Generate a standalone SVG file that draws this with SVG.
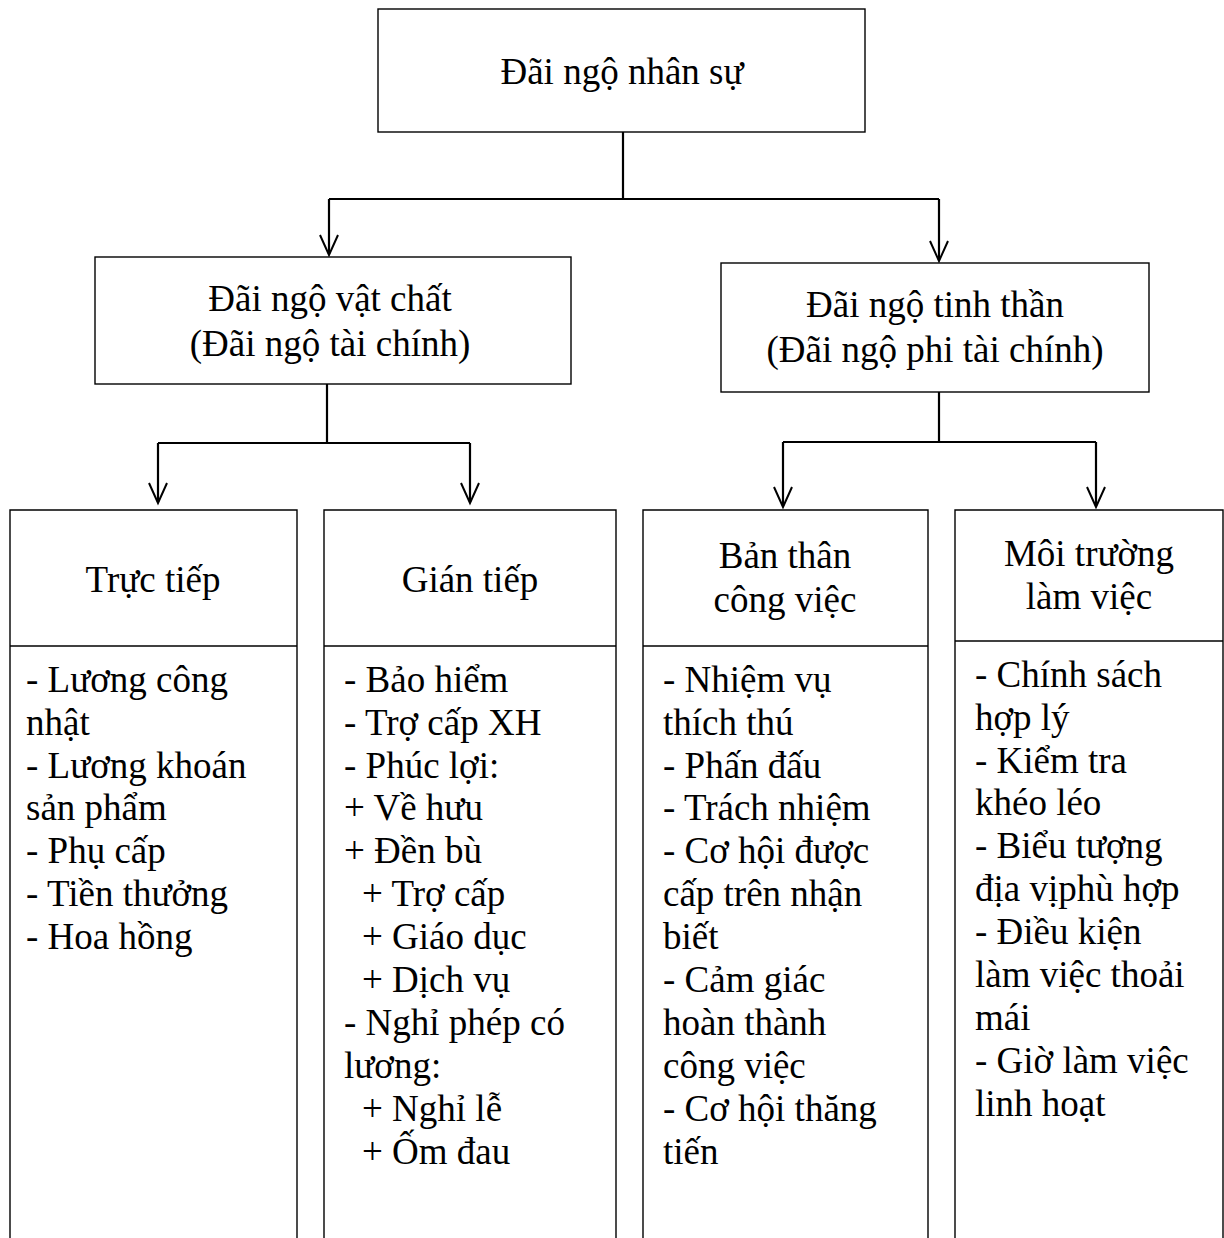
<svg xmlns="http://www.w3.org/2000/svg" width="1224" height="1238" viewBox="0 0 1224 1238">
  <style>
    .box { fill: #ffffff; stroke: #000000; stroke-width: 1.4; }
    .link { fill: none; stroke: #000000; stroke-width: 2.2; }
    .head { fill: none; stroke: #000000; stroke-width: 2; }
    text { font-family: "Liberation Serif", "Times New Roman", serif; font-size: 37px; fill: #000000; }
    .c { text-anchor: middle; }
  </style>
  <defs>
    <!-- open V arrowhead, tip at origin -->
    <path id="v" class="head" d="M-9,-20 L0,0 L9,-20"/>
  </defs>

  <rect width="1224" height="1238" fill="#ffffff"/>

  <g id="connectors">
    <!-- root to level 2 -->
    <path class="link" d="M623,132 V199 M329,199 H939 M329,199 V254 M939,199 V260"/>
    <use href="#v" x="329" y="255"/>
    <use href="#v" x="939" y="261"/>
    <!-- material to direct / indirect -->
    <path class="link" d="M327,384 V443 M158,443 H470 M158,443 V502 M470,443 V502"/>
    <use href="#v" x="158" y="503"/>
    <use href="#v" x="470" y="503"/>
    <!-- spiritual to job / environment -->
    <path class="link" d="M939,392 V442 M783,442 H1096 M783,442 V506 M1096,442 V506"/>
    <use href="#v" x="783" y="507"/>
    <use href="#v" x="1096" y="507"/>
  </g>

  <g id="root">
    <rect class="box" x="378" y="9" width="487" height="123"/>
    <text class="c" x="622" y="84">Đãi ngộ nhân sự</text>
  </g>

  <g id="material">
    <rect class="box" x="95" y="257" width="476" height="127"/>
    <text class="c" x="330" y="311">Đãi ngộ vật chất</text>
    <text class="c" x="330" y="356">(Đãi ngộ tài chính)</text>
  </g>

  <g id="spiritual">
    <rect class="box" x="721" y="263" width="428" height="129"/>
    <text class="c" x="935" y="317">Đãi ngộ tinh thần</text>
    <text class="c" x="935" y="362">(Đãi ngộ phi tài chính)</text>
  </g>

  <g id="direct">
    <path class="box" d="M10,1245 V510 H297 V1245"/>
    <path class="box" d="M10,646 H297"/>
    <text class="c" x="153" y="592">Trực tiếp</text>
    <text x="26" y="692">- Lương công</text>
    <text x="26" y="735">nhật</text>
    <text x="26" y="778">- Lương khoán</text>
    <text x="26" y="820">sản phẩm</text>
    <text x="26" y="863">- Phụ cấp</text>
    <text x="26" y="906">- Tiền thưởng</text>
    <text x="26" y="949">- Hoa hồng</text>
  </g>

  <g id="indirect">
    <path class="box" d="M324,1245 V510 H616 V1245"/>
    <path class="box" d="M324,646 H616"/>
    <text class="c" x="470" y="592">Gián tiếp</text>
    <text x="344" y="692">- Bảo hiểm</text>
    <text x="344" y="735">- Trợ cấp XH</text>
    <text x="344" y="778">- Phúc lợi:</text>
    <text x="344" y="820">+ Về hưu</text>
    <text x="344" y="863">+ Đền bù</text>
    <text x="362" y="906">+ Trợ cấp</text>
    <text x="362" y="949">+ Giáo dục</text>
    <text x="362" y="992">+ Dịch vụ</text>
    <text x="344" y="1035">- Nghỉ phép có</text>
    <text x="344" y="1078">lương:</text>
    <text x="362" y="1121">+ Nghỉ lễ</text>
    <text x="362" y="1164">+ Ốm đau</text>
  </g>

  <g id="job">
    <path class="box" d="M643,1245 V510 H928 V1245"/>
    <path class="box" d="M643,646 H928"/>
    <text class="c" x="785" y="568">Bản thân</text>
    <text class="c" x="785" y="612">công việc</text>
    <text x="663" y="692">- Nhiệm vụ</text>
    <text x="663" y="735">thích thú</text>
    <text x="663" y="778">- Phấn đấu</text>
    <text x="663" y="820">- Trách nhiệm</text>
    <text x="663" y="863">- Cơ hội được</text>
    <text x="663" y="906">cấp trên nhận</text>
    <text x="663" y="949">biết</text>
    <text x="663" y="992">- Cảm giác</text>
    <text x="663" y="1035">hoàn thành</text>
    <text x="663" y="1078">công việc</text>
    <text x="663" y="1121">- Cơ hội thăng</text>
    <text x="663" y="1164">tiến</text>
  </g>

  <g id="environment">
    <path class="box" d="M955,1245 V510 H1223 V1245"/>
    <path class="box" d="M955,641 H1223"/>
    <text class="c" x="1089" y="566">Môi trường</text>
    <text class="c" x="1089" y="609">làm việc</text>
    <text x="975" y="687">- Chính sách</text>
    <text x="975" y="730">hợp lý</text>
    <text x="975" y="773">- Kiểm tra</text>
    <text x="975" y="815">khéo léo</text>
    <text x="975" y="858">- Biểu tượng</text>
    <text x="975" y="901">địa vịphù hợp</text>
    <text x="975" y="944">- Điều kiện</text>
    <text x="975" y="987">làm việc thoải</text>
    <text x="975" y="1030">mái</text>
    <text x="975" y="1073">- Giờ làm việc</text>
    <text x="975" y="1116">linh hoạt</text>
  </g>
</svg>
